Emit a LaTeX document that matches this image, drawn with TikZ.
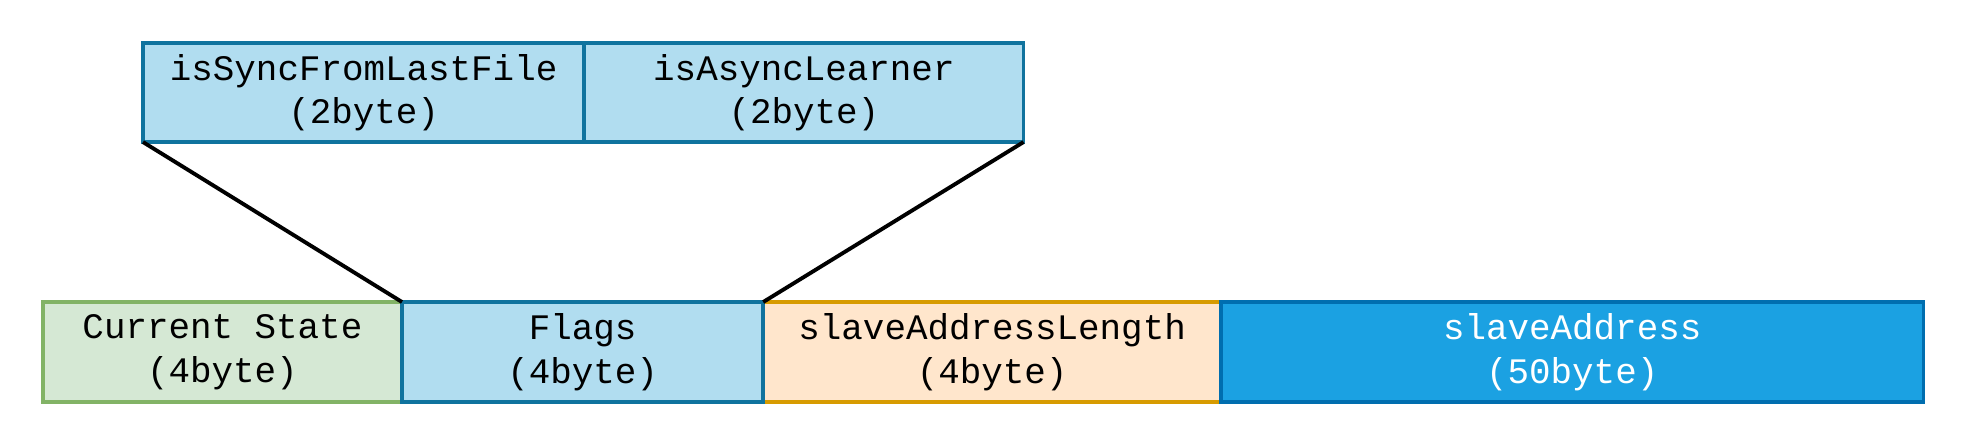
\documentclass[tikz,border=0pt]{standalone}
\usepackage{fontspec}
\setmonofont{Liberation Mono}
\usetikzlibrary{positioning}
\definecolor{flBack}{HTML}{B1DDF0}
\definecolor{flFrame}{HTML}{10739E}
\definecolor{csBack}{HTML}{D5E8D4}
\definecolor{csFrame}{HTML}{82B366}
\definecolor{slBack}{HTML}{FFE6CC}
\definecolor{slFrame}{HTML}{D79B00}
\definecolor{saBack}{HTML}{1BA1E2}
\definecolor{saFrame}{HTML}{006EAF}

\begin{document}
\begin{tikzpicture}[x=0.01cm,y=0.01cm, field/.style={line width=1.1pt,align=center,inner sep=0pt,outer sep=0pt,minimum height=1cm,anchor=north west,font=\ttfamily\fontsize{10.2}{12.4}\selectfont}, node distance=0pt]
\useasboundingbox (0,0) rectangle (1964,444);
\node[field,draw=csFrame,fill=csBack,minimum width=3.594cm] (cs) at (42.6,142) {Current State\\(4byte)};
\node[field,draw=slFrame,fill=slBack,minimum width=4.58cm] (sl) at (763,142) {slaveAddressLength\\(4byte)};
\node[field,draw=saFrame,fill=saBack,text=white,minimum width=7.02cm] (sa) at (1221,142) {slaveAddress\\(50byte)};
\node[field,draw=flFrame,fill=flBack,minimum width=3.61cm] (fl) at (402,142) {Flags\\(4byte)};
\node[field,draw=flFrame,fill=flBack,minimum width=4.41cm,minimum height=0.99cm] (sy) at (143,401) {isSyncFromLastFile\\(2byte)};
\node[field,draw=flFrame,fill=flBack,minimum width=4.39cm,minimum height=0.99cm,right=of sy] (as) {isAsyncLearner\\(2byte)};
\draw[line width=1.1pt] (sy.south west)--(fl.north west);\draw[line width=1.1pt] (as.south east)--(fl.north east);
\end{tikzpicture}
\end{document}
